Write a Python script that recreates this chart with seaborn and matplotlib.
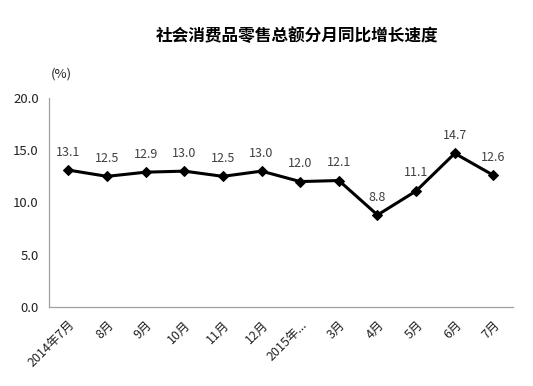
import numpy as np
import pandas as pd
import seaborn as sns
import matplotlib
matplotlib.use('Agg')
from matplotlib import pyplot as plt
from matplotlib.ticker import FixedLocator, NullFormatter

# 数据
months = ['2014年7月', '8月', '9月', '10月', '11月', '12月', '2015年...',
          '3月', '4月', '5月', '6月', '7月']
growth = [13.1, 12.5, 12.9, 13.0, 12.5, 13.0, 12.0, 12.1, 8.8, 11.1, 14.7, 12.6]

df = pd.DataFrame({'月份': months, '增速': growth})

sns.set_style('white')
plt.rcParams['font.family'] = ['Noto Sans CJK SC', 'DejaVu Sans']

fig = plt.figure(figsize=(5.33, 3.86), dpi=100)
ax = fig.add_axes([0.092, 0.205, 0.870, 0.541])

sns.lineplot(data=df, x='月份', y='增速', ax=ax, sort=False, color='black',
             linewidth=2.2, marker='D', markersize=5.5, markeredgecolor='black')

for i, v in enumerate(growth):
    ax.text(i, v + 1.1, f'{v:.1f}', ha='center', va='bottom', fontsize=9,
            color='#404040')

ax.set_xlim(-0.5, len(months) - 0.5)
ax.set_ylim(0, 20)
ax.set_yticks([0, 5, 10, 15, 20])
ax.set_yticklabels([f'{t:.1f}' for t in [0, 5, 10, 15, 20]], fontsize=9.5,
                   color='#222222')
ax.set_xticks(range(len(months)))
ax.set_xticklabels(months, rotation=45, ha='right', rotation_mode='anchor',
                   fontsize=9, color='#222222')
ax.tick_params(axis='x', length=0, pad=8)
ax.tick_params(axis='y', length=4, color='#a0a0a0', direction='out')
# 分类之间的刻度线
ax.xaxis.set_minor_locator(FixedLocator(np.arange(-0.5, len(months), 1)))
ax.xaxis.set_minor_formatter(NullFormatter())
ax.tick_params(axis='x', which='minor', length=4, color='#a0a0a0',
               direction='out')

for s in ['top', 'right']:
    ax.spines[s].set_visible(False)
for s in ['left', 'bottom']:
    ax.spines[s].set_color('#a0a0a0')
    ax.spines[s].set_linewidth(0.9)

ax.set_xlabel('')
ax.set_ylabel('')
fig.text(0.095, 0.80, '(%)', fontsize=9.5, color='#222222')
fig.text(0.557, 0.895, '社会消费品零售总额分月同比增长速度', ha='center',
         fontsize=12, fontweight='bold', color='black')

fig.savefig('out.png', dpi=100)
